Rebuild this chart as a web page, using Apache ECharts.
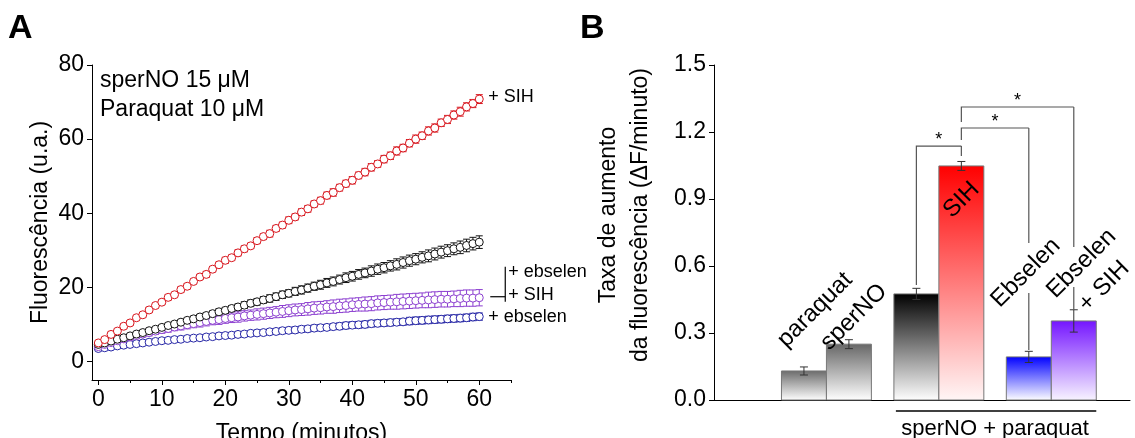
<!DOCTYPE html>
<html><head><meta charset="utf-8">
<script src="https://cdn.jsdelivr.net/npm/echarts@6/dist/echarts.min.js"></script>
<style>html,body{margin:0;padding:0;background:#fff}#c{width:1135px;height:438px}</style>
</head><body><div id="c"></div>
<script>
// ---------- Panel A data ----------
const time = [0,1,2,3,4,5,6,7,8,9,10,11,12,13,14,15,16,17,18,19,20,21,22,23,24,25,26,27,28,29,30,31,32,33,34,35,36,37,38,39,40,41,42,43,44,45,46,47,48,49,50,51,52,53,54,55,56,57,58,59,60];
const redSIH = [5.0,5.9,7.3,8.2,9.5,10.4,11.8,12.6,13.9,15.1,16.0,17.3,18.0,19.4,20.3,21.6,22.8,23.5,24.9,26.1,27.3,28.0,29.3,30.4,31.2,32.6,33.7,34.5,35.9,36.8,38.1,39.0,40.3,41.2,42.5,43.4,44.8,45.6,46.9,48.0,48.9,50.2,51.1,52.4,53.3,54.6,55.5,56.8,57.6,58.9,60.0,60.9,62.2,63.0,64.4,65.3,66.5,67.4,68.7,69.6,70.8];
const redErr = [0.5,0.5,0.6,0.5,0.6,0.6,0.5,0.6,0.7,0.6,0.6,0.7,0.6,0.7,0.7,0.6,0.7,0.8,0.7,0.7,0.8,0.7,0.8,0.8,0.7,0.8,0.8,0.9,0.8,0.8,0.9,0.8,0.9,0.9,0.8,0.9,0.9,1.0,0.9,0.9,1.0,0.9,1.0,1.0,0.9,1.0,1.0,1.1,1.0,1.0,1.1,1.0,1.1,1.1,1.0,1.1,1.1,1.2,1.1,1.1,1.2];
const blackCtrl = [4.6,5.0,5.5,6.0,6.4,6.9,7.4,7.8,8.3,8.7,9.2,9.7,10.1,10.6,11.1,11.5,12.0,12.4,12.9,13.4,13.8,14.3,14.7,15.2,15.7,16.1,16.6,17.0,17.5,18.0,18.4,18.9,19.3,19.8,20.3,20.7,21.2,21.6,22.1,22.6,23.0,23.5,23.9,24.4,24.9,25.3,25.8,26.2,26.7,27.2,27.6,28.1,28.5,29.0,29.5,29.9,30.4,30.8,31.3,31.8,32.2];
const blackErr = [0.3,0.3,0.3,0.4,0.4,0.4,0.4,0.5,0.5,0.5,0.5,0.6,0.6,0.6,0.6,0.7,0.7,0.7,0.7,0.8,0.8,0.8,0.8,0.9,0.9,0.9,0.9,1.0,1.0,1.0,1.0,1.1,1.1,1.1,1.1,1.2,1.2,1.2,1.2,1.3,1.3,1.3,1.3,1.4,1.4,1.4,1.4,1.5,1.5,1.5,1.5,1.5,1.6,1.6,1.6,1.6,1.6,1.7,1.7,1.7,1.7];
const purpleEbsSIH = [4.0,4.6,5.1,5.6,6.1,6.6,7.0,7.4,7.8,8.2,8.6,8.9,9.3,9.6,9.9,10.2,10.5,10.8,11.1,11.3,11.6,11.8,12.0,12.3,12.5,12.7,12.9,13.1,13.3,13.5,13.7,13.9,14.0,14.2,14.4,14.5,14.7,14.8,15.0,15.1,15.3,15.4,15.5,15.6,15.8,15.9,16.0,16.1,16.2,16.3,16.4,16.5,16.6,16.7,16.8,16.8,16.9,17.0,17.1,17.1,17.2];
const purpleErr = [0.5,0.5,0.6,0.6,0.7,0.7,0.8,0.8,0.9,0.9,1.0,1.0,1.0,1.1,1.1,1.1,1.2,1.2,1.2,1.3,1.3,1.3,1.4,1.4,1.4,1.5,1.5,1.5,1.5,1.6,1.6,1.6,1.6,1.7,1.7,1.7,1.7,1.8,1.8,1.8,1.8,1.8,1.9,1.9,1.9,1.9,1.9,2.0,2.0,2.0,2.0,2.0,2.1,2.1,2.1,2.1,2.1,2.2,2.2,2.2,2.2];
const blueEbs = [3.5,3.7,3.9,4.2,4.4,4.6,4.8,5.0,5.2,5.4,5.6,5.7,5.9,6.0,6.2,6.3,6.4,6.6,6.7,6.9,7.0,7.1,7.3,7.4,7.6,7.7,7.8,8.0,8.1,8.3,8.4,8.5,8.7,8.8,9.0,9.1,9.2,9.4,9.5,9.7,9.8,9.9,10.0,10.2,10.3,10.4,10.5,10.6,10.7,10.9,11.0,11.1,11.2,11.3,11.4,11.5,11.6,11.7,11.8,12.0,12.1];
const blueErr = [0.4,0.4,0.4,0.4,0.5,0.5,0.5,0.5,0.5,0.5,0.5,0.6,0.6,0.6,0.6,0.6,0.6,0.6,0.6,0.7,0.7,0.7,0.7,0.7,0.7,0.7,0.7,0.7,0.8,0.8,0.8,0.8,0.8,0.8,0.8,0.8,0.8,0.8,0.9,0.9,0.9,0.9,0.9,0.9,0.9,0.9,0.9,0.9,0.9,1.0,1.0,1.0,1.0,1.0,1.0,1.0,1.0,1.0,1.0,1.0,1.0];
const xTicksA = [0,10,20,30,40,50,60];
const xMinorA = [5,15,25,35,45,55,65];
const yTicksA = [0,20,40,60,80];

// ---------- Panel B data ----------
const barCategories = ['paraquat','sperNO','sperNO + paraquat','SIH','Ebselen','Ebselen + SIH'];
const barLabels = ['paraquat','sperNO','','SIH','Ebselen','Ebselen\n+ SIH'];
const barGroup = [0,0,1,1,2,2];
const barValues = [0.13,0.25,0.475,1.048,0.193,0.354];
const barErrors = [0.018,0.02,0.025,0.02,0.025,0.05];
const sigPairs = [[2,3],[3,4],[3,5]];
const sigMarks = ['*','*','*'];
const groupLabel = 'sperNO + paraquat';
const yTicksB = [0,0.3,0.6,0.9,1.2,1.5];

// ---------- styling / layout ----------
const FONT = '"Liberation Sans", Arial, Helvetica, sans-serif';
const barTop = ['#6a6a6a','#666666','#000000','#ff0000','#0000ff','#7414ff'];
const barBottom = ['#ffffff','#ffffff','#ffffff','#fff6f6','#ffffff','#f8f4ff'];
const labelOffset = [[11,-61],[5,-27],[0,0],[0,34],[-3,-84],[19,-46]];
const bracketTop = [1.137,1.218,1.312];
const legLeftBottom = [0.515,1.164,1.245];
const legRightBottom = [1.093,0.224,0.403];
const legRightGap = [null,[0.479,0.703],[0.506,0.685]];

function barLeftUnit(i){ return 3 + 2*i + barGroup[i]; }

function errRender(color, cap){
  return function(params, api){
    const x = api.value(0), y = api.value(1), e = api.value(2);
    const hi = api.coord([x, y+e]), lo = api.coord([x, y-e]);
    const st = {stroke: color, lineWidth: 1};
    return {type:'group', children:[
      {type:'line', shape:{x1:hi[0],y1:hi[1],x2:lo[0],y2:lo[1]}, style:st},
      {type:'line', shape:{x1:hi[0]-cap,y1:hi[1],x2:hi[0]+cap,y2:hi[1]}, style:st},
      {type:'line', shape:{x1:lo[0]-cap,y1:lo[1],x2:lo[0]+cap,y2:lo[1]}, style:st}
    ]};
  };
}
function triple(vals, errs){ return time.map((t,i)=>[t, vals[i], errs[i]]); }

const seriesA = [];
[[blueEbs, blueErr, '#2626a6'], [purpleEbsSIH, purpleErr, '#8c3fd0'], [blackCtrl, blackErr, '#111111'], [redSIH, redErr, '#d8141c']].forEach(function(s){
  seriesA.push({type:'custom', xAxisIndex:0, yAxisIndex:0, renderItem: errRender(s[2], 3.5), data: triple(s[0], s[1]), z:2});
  seriesA.push({type:'scatter', xAxisIndex:0, yAxisIndex:0, symbol:'circle', symbolSize:8,
    itemStyle:{color:'#ffffff', borderColor:s[2], borderWidth:1, opacity:1}, data: time.map((t,i)=>[t, s[0][i]]), z:3});
});

// annotations at right of panel A, anchored to the last points
const last = time.length - 1;
seriesA.push({type:'custom', xAxisIndex:0, yAxisIndex:0, data:[[time[last], 0]], z:4, silent:true,
  renderItem: function(params, api){
    const pr = api.coord([time[last], redSIH[last]]);
    const pb = api.coord([time[last], blueEbs[last]]);
    const pp = api.coord([time[last], purpleEbsSIH[last]]);
    const ts = {fontSize:18, fontFamily:FONT, fill:'#000', verticalAlign:'middle', align:'left'};
    const ln = {stroke:'#000', lineWidth:1.2};
    return {type:'group', children:[
      {type:'text', x:pr[0]+9, y:pr[1]-2, style:Object.assign({text:'+ SIH'}, ts)},
      {type:'text', x:pb[0]+9, y:pb[1], style:Object.assign({text:'+ ebselen'}, ts)},
      {type:'line', shape:{x1:pp[0]+11, y1:pp[1]-1, x2:pp[0]+26, y2:pp[1]-1}, style:ln},
      {type:'line', shape:{x1:pp[0]+26, y1:pp[1]-31, x2:pp[0]+26, y2:pp[1]+4}, style:ln},
      {type:'text', x:pp[0]+29, y:pp[1]-26, style:Object.assign({text:'+ ebselen'}, ts)},
      {type:'text', x:pp[0]+29, y:pp[1]-3, style:Object.assign({text:'+ SIH'}, ts)}
    ]};
  }});

// ---------- Panel B series ----------
const barSeries = {type:'custom', xAxisIndex:2, yAxisIndex:1, z:3,
  data: barValues.map((v,i)=>[i, v, barErrors[i]]),
  renderItem: function(params, api){
    const i = api.value(0), v = api.value(1), e = api.value(2);
    const L = barLeftUnit(i);
    const p0 = api.coord([L, 0]), p1 = api.coord([L+2, v]);
    const cx = (p0[0]+p1[0])/2;
    const hi = api.coord([L+1, v+e]), lo = api.coord([L+1, v-e]);
    const es = {stroke:'#333', lineWidth:1};
    const children = [
      {type:'rect', shape:{x:p0[0], y:p1[1], width:p1[0]-p0[0], height:p0[1]-p1[1]},
        style:{fill:{type:'linear', x:0, y:0, x2:0, y2:1, colorStops:[{offset:0,color:barTop[i]},{offset:1,color:barBottom[i]}]}, stroke:'#777', lineWidth:1}},
      {type:'line', shape:{x1:cx, y1:hi[1], x2:cx, y2:lo[1]}, style:es, z2:5},
      {type:'line', shape:{x1:cx-4, y1:hi[1], x2:cx+4, y2:hi[1]}, style:es, z2:5},
      {type:'line', shape:{x1:cx-4, y1:lo[1], x2:cx+4, y2:lo[1]}, style:es, z2:5}
    ];
    if (barLabels[i]) {
      children.push({type:'text', x:cx+labelOffset[i][0], y:p1[1]+labelOffset[i][1], rotation:Math.PI/4, z2:6,
        style:{text:barLabels[i], fontSize:24, fontFamily:FONT, fill:'#000', align:'center', verticalAlign:'middle', lineHeight:32}});
    }
    return {type:'group', children:children};
  }};

const sigSeries = {type:'custom', xAxisIndex:2, yAxisIndex:1, z:4, silent:true,
  data: sigPairs.map((p,k)=>[k, bracketTop[k]]),
  renderItem: function(params, api){
    const k = api.value(0);
    const a = sigPairs[k][0], b = sigPairs[k][1];
    const xa = api.coord([barLeftUnit(a)+1, 0])[0], xb = api.coord([barLeftUnit(b)+1, 0])[0];
    const yt = api.coord([0, bracketTop[k]])[1];
    const yla = api.coord([0, legLeftBottom[k]])[1];
    const ylb = api.coord([0, legRightBottom[k]])[1];
    const st = {stroke:'#555', lineWidth:1.2};
    const ch = [
      {type:'polyline', shape:{points:[[xa,yla],[xa,yt],[xb,yt]]}, style:Object.assign({fill:null}, st)}
    ];
    const g = legRightGap[k];
    if (g) {
      ch.push({type:'line', shape:{x1:xb,y1:yt,x2:xb,y2:api.coord([0,g[1]])[1]}, style:st});
      ch.push({type:'line', shape:{x1:xb,y1:api.coord([0,g[0]])[1],x2:xb,y2:ylb}, style:st});
    } else {
      ch.push({type:'line', shape:{x1:xb,y1:yt,x2:xb,y2:ylb}, style:st});
    }
    ch.push({type:'text', x:(xa+xb)/2, y:yt-6, style:{text:sigMarks[k], fontSize:18, fontFamily:FONT, fill:'#000', align:'center', verticalAlign:'middle'}});
    return {type:'group', children:ch};
  }};

const groupSeries = {type:'custom', xAxisIndex:2, yAxisIndex:1, z:4, silent:true, data:[[0,0]],
  renderItem: function(params, api){
    const xa = api.coord([barLeftUnit(2), 0]);
    const xb = api.coord([barLeftUnit(5)+2, 0]);
    return {type:'group', children:[
      {type:'line', shape:{x1:xa[0]+2, y1:xa[1]+11, x2:xb[0], y2:xa[1]+11}, style:{stroke:'#000', lineWidth:1.5}},
      {type:'text', x:(xa[0]+xb[0])/2, y:xa[1]+29, style:{text:groupLabel, fontSize:22, fontFamily:FONT, fill:'#000', align:'center', verticalAlign:'middle'}}
    ]};
  }};

const axisCommon = {
  axisLine:{show:true, onZero:false, lineStyle:{color:'#000', width:1}},
  splitLine:{show:false}
};
const labelStyle = {fontSize:23, color:'#000', fontFamily:FONT};

const option = {
  animation:false,
  backgroundColor:'#fff',
  textStyle:{fontFamily:FONT},
  grid:[{left:92, top:65, width:419, height:315, containLabel:false, outerBoundsMode:'none'},
        {left:714, top:65, width:416, height:335, containLabel:false, outerBoundsMode:'none'}],
  xAxis:[
    Object.assign({gridIndex:0, type:'value', min:-1, max:65, position:'bottom',
      axisTick:{show:true, customValues:xTicksA, length:5, lineStyle:{color:'#000'}},
      axisLabel:Object.assign({customValues:xTicksA, margin:8}, labelStyle),
      name:'Tempo (minutos)', nameLocation:'middle', nameGap:42,
      nameTextStyle:{fontSize:23, color:'#000', fontFamily:FONT}}, axisCommon),
    {gridIndex:0, type:'value', min:-1, max:65, position:'bottom',
      axisLine:{show:false, onZero:false}, splitLine:{show:false}, axisLabel:{show:false},
      axisTick:{show:true, customValues:xMinorA, length:3, lineStyle:{color:'#000'}}},
    Object.assign({gridIndex:1, type:'value', min:0, max:18.5, axisTick:{show:false}, axisLabel:{show:false}}, axisCommon)
  ],
  yAxis:[
    Object.assign({gridIndex:0, type:'value', min:-5, max:80,
      axisTick:{show:true, customValues:yTicksA, length:5, lineStyle:{color:'#000'}},
      axisLabel:Object.assign({customValues:yTicksA, margin:8}, labelStyle),
      name:'Fluorescência (u.a.)', nameLocation:'middle', nameGap:40, nameRotate:90,
      nameTextStyle:{fontSize:23, color:'#000', fontFamily:FONT}}, axisCommon),
    Object.assign({gridIndex:1, type:'value', min:0, max:1.5, interval:0.3,
      axisTick:{show:true, customValues:yTicksB, length:5, lineStyle:{color:'#000'}},
      axisLabel:Object.assign({customValues:yTicksB, margin:8, formatter:function(v){return Number(v).toFixed(1);}}, labelStyle)}, axisCommon)
  ],
  graphic:[
    {type:'text', left:8, top:12, style:{text:'A', fontSize:34, fontWeight:'bold', fontFamily:FONT, fill:'#000'}},
    {type:'text', left:580, top:12, style:{text:'B', fontSize:34, fontWeight:'bold', fontFamily:FONT, fill:'#000'}},
    {type:'text', left:100, top:66, style:{text:'sperNO 15 μM\nParaquat 10 μM', fontSize:23, lineHeight:29, fontFamily:FONT, fill:'#000'}},
    {type:'text', x:625, y:215, rotation:Math.PI/2, style:{text:'Taxa de aumento\nda fluorescência (ΔF/minuto)', fontSize:23, lineHeight:32, fontFamily:FONT, fill:'#000', align:'center', verticalAlign:'middle'}}
  ],
  series: seriesA.concat([barSeries, sigSeries, groupSeries])
};
const chart = echarts.init(document.getElementById('c'));
chart.setOption(option);
</script>
</body></html>
